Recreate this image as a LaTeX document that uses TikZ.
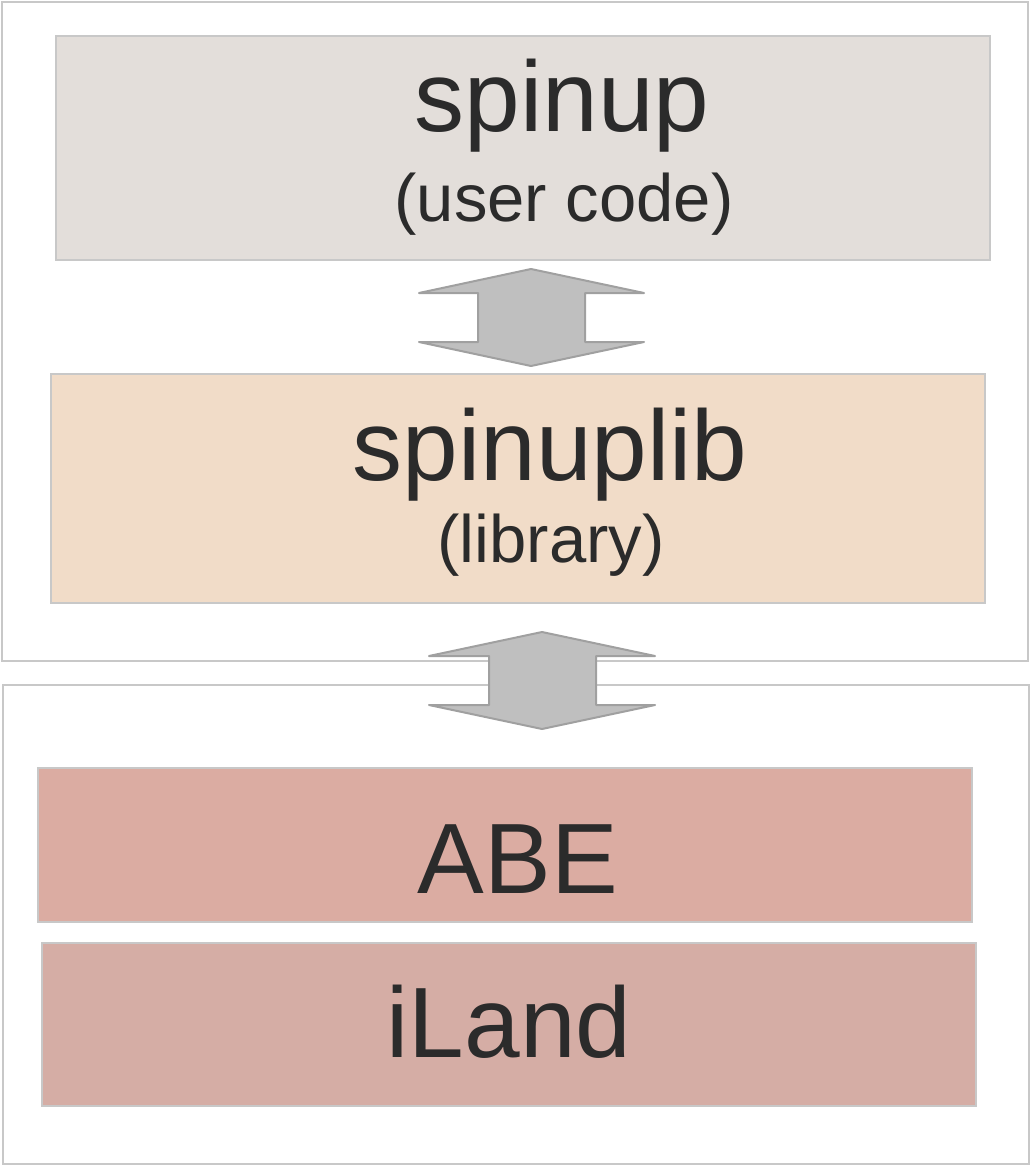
\documentclass[tikz,border=0pt]{standalone}
\usepackage{fontspec}
\setmainfont{Liberation Sans}
\definecolor{edge}{HTML}{C8C8C8}
\definecolor{txt}{HTML}{2B2B2B}
\definecolor{fillA}{HTML}{E3DEDA}
\definecolor{fillB}{HTML}{F1DCC8}
\definecolor{fillC}{HTML}{DBACA2}
\definecolor{fillD}{HTML}{D5ADA5}
\definecolor{arrfill}{HTML}{BFBFBF}
\definecolor{arredge}{HTML}{A0A0A0}
\tikzset{
  outerbox/.style={draw=edge, line width=2pt, fill=white},
  layerbox/.style={draw=edge, line width=2pt},
  bigtext/.style={text=txt, anchor=base, inner sep=0pt, font=\fontsize{100}{110}\selectfont},
  smalltext/.style={text=txt, anchor=base, inner sep=0pt, font=\fontsize{67}{75}\selectfont},
  blockarrow/.style={draw=arredge, line width=2pt, fill=arrfill, line join=round},
}
\begin{document}
\begin{tikzpicture}[x=1pt,y=-1pt]
\useasboundingbox (0,0) rectangle (1031,1166);
% outer frames
\draw[outerbox] (2,2) rectangle (1028,661);
\draw[outerbox] (3,685) rectangle (1029,1164);
% layers
\draw[layerbox, fill=fillA] (56,36) rectangle (990,260);
\draw[layerbox, fill=fillB] (51,374) rectangle (985,603);
\draw[layerbox, fill=fillC] (38,768) rectangle (972,922);
\draw[layerbox, fill=fillD] (42,943) rectangle (976,1106);
% texts
\node[bigtext] (spinup) at (562,132) {spinup};
\node[smalltext] (usercode) at (564,222) {(user code)};
\node[bigtext] (spinuplib) at (550,480) {spinuplib};
\node[smalltext] (library) at (551,562) {(library)};
\node[bigtext] (abe) at (518,893) {ABE};
\node[bigtext] (iland) at (509,1057) {iLand};
% block arrows
\draw[blockarrow] (531,269) -- (644,293) -- (585,293) -- (585,342) -- (644,342) -- (531,366) -- (419,342) -- (478,342) -- (478,293) -- (419,293) -- cycle;
\draw[blockarrow] (542,632) -- (655,656) -- (596,656) -- (596,705) -- (655,705) -- (542,729) -- (429,705) -- (489,705) -- (489,656) -- (429,656) -- cycle;
\end{tikzpicture}
\end{document}
